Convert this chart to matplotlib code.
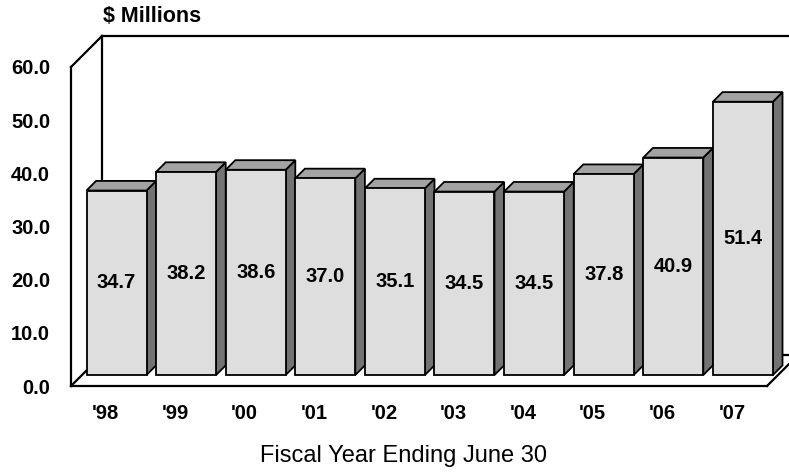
import matplotlib
matplotlib.use("Agg")
import matplotlib.pyplot as plt
from matplotlib.patches import Polygon

plt.rcParams['font.family'] = ['Liberation Sans', 'DejaVu Sans']

# data
years = ["'98", "'99", "'00", "'01", "'02", "'03", "'04", "'05", "'06", "'07"]
values = [34.7, 38.2, 38.6, 37.0, 35.1, 34.5, 34.5, 37.8, 40.9, 51.4]
y_ticks = [0, 10, 20, 30, 40, 50, 60]

# figure / axes layout (pixels at 100 dpi)
W, H = 789, 474
fig = plt.figure(figsize=(W / 100, H / 100), dpi=100)
px_x = 69.6      # pixels per category
px_y = 5.317     # pixels per million
x0 = (71 - 105.5) / px_x
x1 = (767 - 105.5) / px_x
ax = fig.add_axes([71 / W, (H - 386) / H, (767 - 71) / W, (386 - 67) / H])
ax.set_xlim(x0, x1)
ax.set_ylim(0, 60)

# 3d offsets in data units
def off(px):
    return px / px_x, px / px_y

bdx, bdy = off(31)   # back wall depth
pdx, pdy = off(11)   # bar plane depth
ddx, ddy = off(9.6)  # bar thickness
bw = 60 / px_x

# frame (back wall, left wall, floor)
frame_kw = dict(color='black', lw=1.6, clip_on=False, zorder=1, solid_capstyle='projecting')
ax.plot([x0, x0 + bdx], [60, 60 + bdy], **frame_kw)
ax.plot([x0 + bdx, x1 + 3], [60 + bdy, 60 + bdy], **frame_kw)
ax.plot([x0 + bdx, x0 + bdx], [bdy, 60 + bdy], **frame_kw)
ax.plot([x0, x0 + bdx], [0, bdy], **frame_kw)
ax.plot([x0 + bdx, x1 + 3], [bdy, bdy], **frame_kw)
ax.plot([x1, x1 + bdx], [0, bdy], **frame_kw)

# bars
for i, v in enumerate(values):
    xl = i - bw / 2 + pdx
    xr = xl + bw
    yb = pdy
    yt = pdy + v
    front = Polygon([(xl, yb), (xr, yb), (xr, yt), (xl, yt)], closed=True,
                    facecolor='#dedede', edgecolor='black', lw=1.3, clip_on=False, zorder=3)
    top = Polygon([(xl, yt), (xr, yt), (xr + ddx, yt + ddy), (xl + ddx, yt + ddy)], closed=True,
                  facecolor='#a3a3a3', edgecolor='black', lw=1.3, clip_on=False, zorder=2)
    side = Polygon([(xr, yb), (xr + ddx, yb + ddy), (xr + ddx, yt + ddy), (xr, yt)], closed=True,
                   facecolor='#737373', edgecolor='black', lw=1.3, clip_on=False, zorder=2)
    ax.add_patch(side)
    ax.add_patch(top)
    ax.add_patch(front)
    ax.text((xl + xr) / 2, (yb + yt) / 2, f"{v:.1f}", ha='center', va='center',
            fontsize=14.5, fontweight='bold', zorder=4)

# axes styling
for s in ['top', 'right']:
    ax.spines[s].set_visible(False)
for s in ['left', 'bottom']:
    ax.spines[s].set_linewidth(1.6)
    ax.spines[s].set_zorder(5)
ax.set_facecolor('none')
ax.set_yticks(y_ticks)
ax.set_yticklabels([f"{t:.1f}" for t in y_ticks], fontsize=14.5, fontweight='bold')
ax.set_xticks(range(len(years)))
ax.set_xticklabels(years, fontsize=14.5, fontweight='bold')
ax.tick_params(axis='y', length=0, pad=15)
ax.tick_params(axis='x', length=0, pad=13)

fig.text(103 / W, 1 - 17 / H, "$ Millions", ha='left', va='center', fontsize=15.5, fontweight='bold')
fig.text(404 / W, 1 - 456 / H, "Fiscal Year Ending June 30", ha='center', va='center', fontsize=17)

fig.savefig("out.png", dpi=100)
